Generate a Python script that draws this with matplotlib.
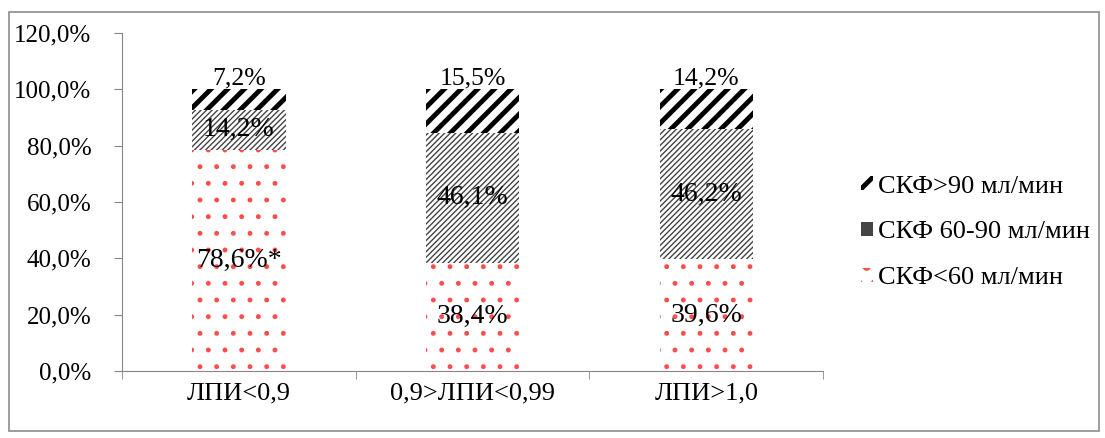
import matplotlib
matplotlib.use("Agg")
import matplotlib.pyplot as plt
from matplotlib.patches import Rectangle

plt.rcParams['font.family'] = ['Liberation Serif', 'DejaVu Serif']

categories = ["ЛПИ<0,9", "0,9>ЛПИ<0,99", "ЛПИ>1,0"]
low = [78.6, 38.4, 39.6]      # СКФ<60
mid = [14.2, 46.1, 46.2]      # СКФ 60-90
high = [7.2, 15.5, 14.2]      # СКФ>90
low_labels = ["78,6%*", "38,4%", "39,6%"]
mid_labels = ["14,2%", "46,1%", "46,2%"]
high_labels = ["7,2%", "15,5%", "14,2%"]
series_names = ["СКФ<60 мл/мин", "СКФ 60-90 мл/мин", "СКФ>90 мл/мин"]

fig = plt.figure(figsize=(11.05, 4.38), dpi=100)
fig.patches.append(Rectangle((0.008, 0.015), 0.987, 0.957, transform=fig.transFigure,
                             fill=False, edgecolor='#8c8c8c', linewidth=1.2))
ax = fig.add_axes([0.1104, 0.153, 0.6346, 0.7717])

x = range(len(categories))
w = 0.4

plt.rcParams['hatch.linewidth'] = 1.1
plt.rcParams['hatch.color'] = '#ff4d4d'
b1 = ax.bar(x, low, w, color='white', hatch='.', edgecolor='#ff4d4d', linewidth=0,
            label=series_names[0])
plt.rcParams['hatch.linewidth'] = 1.0
plt.rcParams['hatch.color'] = '#444444'
b2 = ax.bar(x, mid, w, bottom=low, color='white', hatch='//////', edgecolor='#444444',
            linewidth=0, label=series_names[1])
bottom2 = [a + b for a, b in zip(low, mid)]
plt.rcParams['hatch.linewidth'] = 3.5
plt.rcParams['hatch.color'] = 'black'
b3 = ax.bar(x, high, w, bottom=bottom2, color='white', hatch='//', edgecolor='black',
            linewidth=0, label=series_names[2])

for i in x:
    ax.text(i, low[i] / 2, low_labels[i], ha='center', va='center', fontsize=20)
    ax.text(i, low[i] + mid[i] / 2, mid_labels[i], ha='center', va='center', fontsize=20)
    ax.text(i, bottom2[i] + high[i], high_labels[i], ha='center', va='bottom', fontsize=18.5)

ax.set_ylim(0, 120)
ax.set_xlim(-0.5, 2.5)
ax.set_yticks(range(0, 121, 20))
ax.set_yticklabels([f"{v},0%" for v in range(0, 121, 20)], fontsize=18)
ax.set_xticks(list(x))
ax.set_xticklabels(categories, fontsize=19)
ax.set_xticks([-0.5, 0.5, 1.5, 2.5], minor=True)
ax.tick_params(axis='x', which='major', length=0, pad=8)
ax.tick_params(axis='x', which='minor', length=6, color='#868686', direction='out')
ax.tick_params(axis='y', length=6, color='#868686', direction='out', pad=16)
for s in ['top', 'right']:
    ax.spines[s].set_visible(False)
for s in ['left', 'bottom']:
    ax.spines[s].set_color('#868686')

handles, labels = ax.get_legend_handles_labels()
ax.legend(handles[::-1], labels[::-1], loc='center left', bbox_to_anchor=(1.02, 0.41),
          frameon=False, fontsize=19, handlelength=0.45, handleheight=0.45,
          handletextpad=0.2, labelspacing=0.9)

fig.savefig("out.png", dpi=100)
